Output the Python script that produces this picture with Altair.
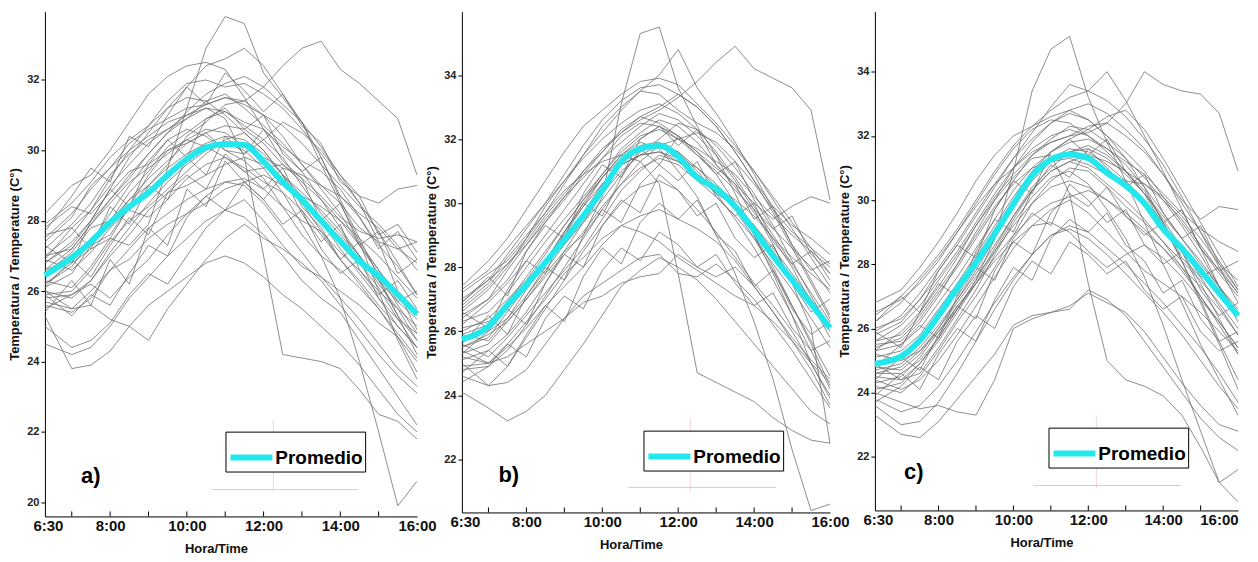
import altair as alt
import pandas as pd

HOURS = [6.3, 7.0, 7.5, 8.0, 8.5, 9.0, 9.5, 10.0, 10.5, 11.0, 11.5, 12.0, 12.5, 13.0, 13.5, 14.0, 14.5, 15.0, 15.5, 16.0]

DAYS_A = [
    [27.0, 27.6, 28.3, 29.0, 29.6, 30.2, 30.6, 31.0, 31.3, 31.5, 31.4, 31.8, 32.4, 32.9, 33.1, 32.3, 31.9, 31.4, 30.9, 29.3],
    [26.2, 26.8, 27.2, 27.5, 27.3, 27.9, 29.5, 31.2, 32.9, 33.8, 33.6, 32.2, 31.5, 30.8, 29.6, 28.5, 27.4, 26.0, 24.6, 23.5],
    [27.5, 28.2, 28.9, 29.5, 30.0, 30.4, 30.8, 31.0, 31.2, 30.9, 29.8, 27.0, 24.2, 24.1, 24.0, 23.8, 23.2, 22.5, 22.3, 21.8],
    [25.3, 23.8, 23.9, 24.3, 25.0, 25.6, 26.0, 26.4, 26.8, 27.0, 26.8, 26.4, 25.9, 25.5, 25.0, 24.5, 23.9, 23.2, 22.5, 22.0],
    [24.5, 24.2, 24.4, 25.0, 25.8, 26.4, 27.0, 27.5, 28.0, 28.3, 28.1, 27.6, 27.0, 26.3, 25.8, 25.4, 24.6, 23.8, 23.0, 22.2],
    [26.0, 25.8, 26.3, 27.1, 27.8, 28.5, 29.1, 29.6, 30.0, 30.2, 30.0, 29.5, 28.8, 27.9, 27.0, 25.8, 24.0, 22.0, 19.9, 20.6],
    [28.2, 29.0, 29.3, 30.0, 30.8, 31.6, 32.1, 32.4, 32.5, 32.3, 31.5, 30.6, 30.0, 29.4, 28.6, 27.8, 27.0, 26.2, 25.5, 24.6],
    [26.8, 27.4, 28.0, 28.9, 29.8, 30.5, 31.2, 31.8, 32.4, 32.6, 32.9, 32.4, 31.6, 30.8, 29.8, 28.6, 27.5, 26.4, 25.3, 24.2],
    [27.2, 27.9, 28.5, 29.3, 29.9, 30.3, 30.6, 30.9, 31.4, 31.6, 31.2, 30.7, 30.2, 29.6, 29.0, 28.5, 27.8, 27.4, 27.2, 27.4],
    [26.6, 26.9, 27.5, 28.0, 28.6, 29.2, 29.7, 30.2, 30.5, 30.7, 30.6, 30.2, 29.6, 29.1, 28.6, 28.0, 27.3, 26.6, 25.9, 25.3],
    [25.9, 26.0, 26.6, 27.4, 28.0, 28.4, 28.9, 29.4, 29.9, 30.3, 30.5, 30.0, 29.3, 28.7, 28.0, 27.2, 26.5, 25.8, 25.0, 24.4],
    [26.3, 26.1, 26.7, 27.5, 28.4, 29.0, 29.6, 30.4, 30.8, 31.3, 31.4, 31.0, 30.4, 29.6, 28.9, 28.2, 27.3, 26.5, 25.6, 24.8],
    [27.8, 28.4, 28.2, 28.8, 29.4, 29.6, 30.0, 30.3, 30.1, 29.8, 29.4, 29.5, 29.6, 29.2, 28.7, 28.1, 27.7, 27.5, 27.6, 27.4],
    [25.6, 25.4, 25.8, 26.6, 27.2, 27.8, 28.2, 28.6, 28.9, 29.1, 29.2, 28.9, 28.4, 28.0, 27.7, 27.1, 26.6, 26.0, 25.5, 25.0],
    [27.0, 27.2, 27.9, 28.5, 29.1, 29.5, 29.9, 30.3, 30.6, 30.5, 30.1, 29.8, 29.5, 29.3, 29.0, 28.7, 28.2, 27.8, 27.2, 26.8],
    [25.0, 24.4, 24.6, 25.1, 25.9, 26.5, 26.2, 27.0, 27.8, 28.3, 28.6, 28.0, 27.3, 26.7, 26.4, 26.0, 25.6, 25.1, 24.7, 24.0],
    [26.1, 26.5, 27.3, 27.6, 28.4, 29.3, 30.0, 30.2, 30.5, 30.0, 29.7, 29.2, 28.4, 27.6, 27.0, 26.6, 26.1, 25.5, 24.7, 23.7],
    [25.8, 25.9, 26.2, 25.8, 26.4, 26.9, 27.6, 28.2, 28.7, 29.1, 29.0, 28.5, 27.8, 27.1, 26.4, 25.8, 25.2, 24.5, 23.8, 23.3],
    [27.4, 28.1, 29.0, 29.5, 30.2, 30.6, 30.9, 31.2, 31.3, 31.5, 31.3, 31.0, 30.7, 30.2, 29.6, 29.0, 28.4, 27.9, 27.3, 26.6],
    [26.5, 27.1, 27.8, 28.0, 28.8, 29.4, 30.1, 30.5, 30.9, 31.1, 30.8, 30.6, 30.1, 29.7, 29.4, 28.9, 28.1, 27.3, 26.7, 25.9],
    [26.9, 26.6, 27.1, 27.8, 28.3, 28.1, 28.6, 29.2, 29.6, 29.8, 29.5, 29.1, 28.8, 28.3, 27.6, 26.9, 26.2, 25.5, 24.8, 24.1],
    [26.0, 25.5, 25.6, 25.2, 25.0, 24.6, 25.5, 26.2, 26.9, 27.5, 27.9, 27.5, 27.2, 26.8, 26.3, 25.6, 24.9, 24.2, 23.6, 23.1],
    [27.9, 28.5, 29.1, 29.8, 30.3, 30.7, 31.2, 31.5, 31.4, 31.0, 30.5, 30.0, 29.3, 28.5, 27.7, 26.9, 26.3, 25.6, 25.0, 24.4],
    [26.4, 27.0, 27.4, 28.2, 29.0, 29.7, 30.3, 30.6, 30.4, 30.0, 29.9, 30.3, 30.8, 30.5, 30.0, 29.3, 28.7, 28.5, 28.9, 29.0],
    [25.5, 25.9, 26.3, 27.0, 27.6, 28.3, 28.8, 29.0, 29.3, 29.6, 29.8, 29.6, 29.1, 28.7, 28.4, 28.0, 27.5, 27.0, 26.4, 25.8],
    [26.8, 27.3, 28.0, 28.6, 29.2, 29.9, 30.5, 30.9, 31.2, 31.1, 30.7, 30.3, 29.8, 29.0, 28.2, 27.6, 27.0, 26.3, 25.7, 25.2],
    [27.6, 27.8, 28.3, 29.2, 30.0, 30.7, 31.4, 31.9, 32.0, 31.8, 31.9, 31.6, 31.2, 30.6, 29.9, 29.2, 28.5, 27.7, 26.8, 25.9],
    [26.2, 26.7, 27.4, 27.9, 28.6, 29.0, 29.5, 29.9, 30.2, 30.4, 30.3, 29.9, 29.3, 28.8, 28.3, 27.7, 27.0, 26.3, 25.3, 24.6],
    [25.7, 25.5, 26.0, 26.6, 26.9, 27.5, 27.9, 28.2, 28.5, 28.9, 29.1, 29.3, 29.0, 28.6, 28.1, 27.5, 26.8, 26.1, 25.2, 24.4],
    [26.6, 27.2, 27.9, 28.6, 29.3, 29.9, 30.5, 31.1, 31.6, 31.9, 32.1, 31.8, 31.3, 30.8, 30.1, 29.3, 28.5, 27.4, 26.0, 24.9],
    [26.9, 27.8, 27.2, 28.4, 27.9, 29.0, 28.6, 29.8, 29.3, 30.4, 29.9, 30.6, 29.7, 29.2, 28.0, 28.5, 27.3, 27.7, 26.5, 26.9],
    [25.4, 26.3, 25.6, 26.9, 26.2, 27.8, 27.3, 28.9, 28.4, 29.7, 29.1, 28.6, 29.3, 28.2, 27.4, 27.9, 26.6, 25.9, 26.3, 25.5],
    [27.3, 26.8, 28.0, 28.9, 28.4, 29.6, 30.3, 29.8, 30.9, 31.2, 30.6, 31.0, 29.9, 29.4, 29.8, 28.7, 28.1, 27.2, 27.7, 26.9],
    [26.1, 26.9, 26.4, 27.3, 28.1, 27.6, 28.8, 29.3, 28.9, 29.9, 29.4, 28.9, 29.5, 28.4, 27.8, 26.9, 27.4, 26.6, 25.7, 26.0],
    [25.9, 25.3, 25.9, 25.6, 26.5, 27.3, 27.0, 28.1, 28.7, 28.3, 29.1, 28.6, 27.9, 28.3, 27.2, 26.5, 26.9, 25.8, 25.2, 24.8],
    [27.7, 28.7, 29.5, 29.1, 30.4, 30.1, 31.0, 31.8, 31.3, 32.2, 31.7, 31.1, 31.6, 30.7, 30.2, 29.1, 28.7, 27.6, 27.9, 27.1],
]
MEAN_A = [26.45, 26.95, 27.4, 27.95, 28.4, 28.8, 29.3, 29.75, 30.08, 30.18, 30.15, 29.68, 29.1, 28.6, 28.0, 27.42, 26.85, 26.43, 25.9, 25.35]

DAYS_B = [
    [26.4, 27.0, 27.6, 28.5, 29.4, 30.2, 31.0, 31.6, 32.2, 32.6, 32.9, 33.3, 33.8, 34.4, 34.9, 34.2, 33.9, 33.6, 32.9, 30.1],
    [25.5, 25.9, 26.3, 27.0, 27.8, 28.5, 29.0, 30.2, 33.1, 35.3, 35.5, 33.6, 32.4, 31.5, 30.3, 29.0, 27.8, 26.5, 25.0, 23.9],
    [26.8, 27.5, 28.3, 29.0, 29.7, 30.4, 30.9, 31.3, 31.5, 31.3, 30.6, 27.8, 24.7, 24.4, 24.1, 23.8, 23.3, 22.9, 22.6, 22.5],
    [24.1, 23.6, 23.2, 23.5, 24.0, 24.8, 25.6, 26.5, 27.4, 27.9, 28.3, 28.0, 27.6, 27.0, 26.3, 25.6, 24.9, 24.2, 23.5, 23.1],
    [25.0, 24.3, 24.4, 24.8, 25.6, 26.4, 27.1, 27.5, 27.9, 28.3, 28.4, 27.8, 27.7, 28.1, 27.6, 27.0, 26.2, 25.4, 24.5, 23.6],
    [25.9, 25.7, 26.4, 27.3, 28.2, 29.1, 30.0, 30.8, 31.5, 31.9, 31.7, 31.0, 30.2, 29.0, 27.8, 26.3, 24.5, 22.3, 20.4, 20.6],
    [27.4, 28.2, 28.9, 29.8, 30.7, 31.6, 32.4, 32.9, 33.4, 33.8, 33.9, 33.7, 33.1, 32.5, 31.8, 31.0, 30.1, 29.2, 28.3, 27.4],
    [26.6, 27.3, 28.0, 28.9, 29.9, 30.7, 31.5, 32.2, 32.9, 33.5, 34.0, 34.8, 33.6, 32.8, 31.9, 30.9, 29.8, 28.7, 27.6, 26.5],
    [26.0, 26.4, 27.0, 27.6, 28.4, 29.3, 30.1, 30.9, 31.6, 32.1, 32.3, 32.0, 31.5, 31.0, 30.4, 29.8, 29.2, 28.6, 28.0, 27.2],
    [25.3, 25.6, 26.3, 27.0, 27.7, 28.4, 29.1, 29.9, 30.6, 31.1, 31.4, 31.2, 30.7, 30.2, 29.6, 28.9, 28.1, 27.3, 26.4, 25.5],
    [25.6, 25.2, 25.8, 26.5, 27.2, 27.9, 28.6, 29.5, 30.4, 31.0, 31.5, 31.3, 30.8, 30.3, 29.9, 29.3, 28.5, 27.7, 26.8, 26.0],
    [24.8, 24.9, 25.4, 26.2, 27.1, 28.0, 28.9, 29.8, 30.6, 31.3, 31.8, 31.6, 31.1, 30.5, 29.8, 28.9, 27.9, 26.8, 25.7, 24.6],
    [26.2, 26.9, 27.5, 28.2, 29.0, 29.8, 30.6, 31.4, 32.1, 32.5, 32.4, 32.0, 31.7, 31.3, 30.9, 30.2, 29.6, 29.0, 28.5, 28.0],
    [25.4, 25.0, 25.2, 25.6, 26.0, 26.4, 26.9, 27.1, 27.5, 27.7, 27.8, 28.4, 28.0, 27.7, 28.0, 27.4, 26.6, 25.8, 25.1, 24.5],
    [26.9, 27.6, 28.4, 29.2, 30.0, 30.7, 31.4, 32.0, 32.5, 32.9, 33.1, 32.8, 32.3, 31.6, 30.8, 29.9, 29.0, 28.1, 27.2, 26.3],
    [25.1, 25.4, 25.9, 26.6, 27.5, 28.5, 29.4, 30.3, 31.0, 31.5, 31.6, 31.3, 30.9, 30.5, 30.1, 29.6, 28.9, 28.3, 27.8, 27.3],
    [27.2, 27.8, 28.2, 28.9, 29.7, 30.6, 31.5, 32.4, 33.0, 33.5, 33.4, 32.9, 32.5, 32.2, 31.7, 31.0, 30.2, 29.4, 28.6, 27.8],
    [24.6, 24.3, 24.9, 25.8, 26.7, 27.6, 28.5, 29.3, 30.0, 30.5, 30.7, 30.4, 29.8, 29.1, 28.3, 27.5, 26.8, 26.0, 25.0, 24.0],
    [26.3, 26.6, 27.2, 28.0, 28.8, 29.5, 30.2, 30.9, 31.7, 32.2, 32.6, 32.4, 31.9, 31.2, 30.5, 29.7, 28.9, 28.0, 26.9, 25.8],
    [25.7, 26.1, 26.8, 27.5, 28.1, 28.8, 29.7, 30.6, 31.2, 31.5, 31.8, 32.0, 32.2, 31.9, 31.3, 30.6, 29.8, 29.1, 28.6, 28.1],
    [25.2, 25.0, 25.6, 26.3, 27.0, 27.8, 28.3, 28.9, 29.3, 29.6, 29.8, 29.5, 29.2, 28.8, 28.2, 27.4, 26.6, 25.7, 24.8, 23.7],
    [26.7, 27.4, 28.1, 28.8, 29.6, 30.3, 31.0, 31.7, 32.2, 32.7, 33.0, 33.4, 33.0, 32.4, 31.6, 30.7, 29.9, 29.3, 28.9, 28.4],
    [25.9, 26.2, 26.9, 27.7, 28.5, 29.3, 30.1, 30.8, 31.4, 31.8, 31.9, 31.6, 31.0, 30.3, 29.5, 28.6, 27.6, 26.5, 25.4, 24.2],
    [27.0, 27.6, 28.1, 28.7, 29.4, 30.1, 30.9, 31.6, 32.3, 32.7, 32.5, 32.1, 31.6, 31.1, 30.6, 30.0, 29.5, 29.9, 30.2, 30.0],
    [25.5, 25.8, 26.6, 27.4, 28.2, 29.0, 29.9, 30.8, 31.5, 32.0, 32.4, 32.1, 31.6, 30.9, 30.0, 29.0, 28.0, 26.8, 25.6, 24.3],
    [24.9, 25.0, 25.5, 26.1, 26.8, 27.4, 28.0, 28.7, 29.3, 29.1, 28.8, 28.3, 27.9, 27.5, 27.1, 26.8, 26.3, 25.7, 25.0, 24.4],
    [26.5, 27.0, 27.9, 28.7, 29.5, 30.2, 30.8, 31.4, 31.9, 32.4, 32.8, 32.6, 32.1, 31.5, 30.7, 29.8, 28.7, 27.5, 26.1, 22.5],
    [26.1, 26.3, 26.8, 27.4, 28.2, 29.1, 29.9, 30.6, 31.2, 31.5, 31.6, 31.4, 31.1, 30.6, 30.0, 29.3, 28.6, 27.8, 27.0, 26.2],
    [25.8, 26.0, 26.4, 27.1, 27.9, 28.7, 29.4, 30.1, 30.9, 31.6, 32.0, 32.5, 32.3, 31.8, 31.1, 30.3, 29.3, 28.2, 27.1, 26.1],
    [27.3, 27.9, 28.6, 29.3, 30.0, 30.9, 31.8, 32.6, 33.2, 33.6, 33.7, 33.4, 33.0, 32.4, 31.6, 30.7, 29.7, 28.6, 27.5, 26.4],
    [25.6, 26.5, 25.9, 27.1, 28.0, 27.6, 29.0, 29.8, 29.4, 30.6, 31.2, 30.7, 31.3, 30.2, 29.6, 30.0, 28.8, 28.1, 28.5, 27.6],
    [24.7, 25.4, 24.9, 25.9, 26.8, 26.3, 27.7, 28.6, 28.1, 29.4, 30.0, 29.5, 30.1, 29.0, 28.5, 27.4, 27.9, 26.7, 25.9, 26.3],
    [26.6, 26.1, 27.3, 28.2, 27.8, 29.1, 30.0, 29.6, 30.8, 31.7, 31.2, 32.1, 31.5, 30.9, 31.3, 30.1, 29.2, 29.6, 28.4, 27.8],
    [25.3, 26.0, 26.7, 26.2, 27.5, 28.4, 28.0, 29.3, 30.1, 29.7, 30.9, 30.4, 29.6, 30.0, 28.9, 28.3, 28.7, 27.5, 26.6, 27.0],
    [26.9, 27.7, 27.1, 28.5, 29.3, 28.9, 30.3, 31.2, 30.8, 32.0, 32.4, 31.8, 32.3, 31.2, 30.6, 29.5, 29.9, 28.7, 27.9, 28.2],
    [24.4, 24.9, 25.6, 25.2, 26.4, 27.1, 26.7, 27.9, 28.6, 28.2, 29.1, 28.7, 28.0, 28.4, 27.5, 26.8, 27.2, 26.1, 25.4, 25.7],
]
MEAN_B = [25.75, 26.15, 26.82, 27.45, 28.15, 28.85, 29.6, 30.4, 31.3, 31.7, 31.8, 31.45, 30.8, 30.45, 29.9, 29.15, 28.35, 27.6, 26.85, 26.1]

DAYS_C = [
    [25.3, 25.9, 26.5, 27.3, 28.2, 29.2, 30.1, 30.8, 31.4, 31.8, 32.0, 32.1, 32.4, 33.0, 34.0, 33.6, 33.4, 33.3, 32.7, 30.9],
    [24.6, 24.6, 25.0, 25.7, 26.6, 27.5, 28.8, 30.9, 33.4, 34.7, 35.1, 33.2, 31.8, 30.6, 29.3, 28.0, 26.8, 25.5, 24.4, 23.3],
    [25.6, 26.1, 26.7, 27.5, 28.3, 29.2, 30.0, 30.7, 31.3, 31.4, 30.2, 27.4, 25.0, 24.4, 24.2, 23.9, 23.3, 22.3, 21.2, 20.6],
    [23.3, 22.7, 22.6, 23.1, 23.8, 24.5, 25.2, 26.1, 26.4, 26.5, 26.6, 27.2, 26.9, 26.4, 25.6, 24.8, 24.0, 23.2, 22.6, 22.2],
    [24.0, 23.7, 23.5, 23.6, 23.4, 23.3, 24.4, 26.0, 26.3, 26.5, 26.7, 27.1, 26.8, 26.5, 25.9, 25.1, 24.3, 23.6, 23.0, 22.8],
    [24.9, 24.4, 24.6, 25.4, 26.3, 27.2, 28.3, 29.3, 30.1, 30.7, 30.9, 30.5, 29.7, 28.8, 27.6, 26.1, 24.4, 22.8, 21.2, 21.6],
    [26.8, 27.2, 27.9, 28.7, 29.6, 30.6, 31.4, 32.0, 32.3, 32.6, 32.8, 32.5, 32.0, 31.5, 30.9, 30.1, 29.3, 28.5, 27.7, 27.0],
    [25.8, 26.2, 26.9, 27.8, 28.6, 29.5, 30.4, 31.3, 32.1, 32.9, 33.6, 33.4, 34.0, 33.1, 32.0, 30.9, 29.7, 28.5, 27.3, 26.2],
    [25.1, 25.3, 25.8, 26.6, 27.4, 28.3, 29.2, 30.1, 30.9, 31.5, 31.8, 31.9, 31.6, 31.1, 30.4, 29.6, 28.8, 28.0, 27.3, 26.6],
    [24.5, 24.4, 24.9, 25.6, 26.5, 27.4, 28.4, 29.4, 30.3, 30.9, 31.2, 31.0, 30.5, 30.0, 29.4, 28.7, 27.9, 27.0, 26.1, 25.2],
    [24.2, 24.0, 24.5, 25.3, 26.2, 27.0, 27.9, 28.9, 29.9, 30.6, 31.0, 30.9, 30.4, 29.8, 29.3, 28.7, 28.1, 27.5, 26.8, 26.0],
    [25.4, 25.7, 26.3, 27.1, 27.9, 28.8, 29.7, 30.6, 31.4, 31.9, 32.3, 32.2, 31.8, 31.3, 30.7, 30.0, 29.2, 28.3, 27.3, 26.4],
    [26.2, 26.8, 27.5, 28.2, 29.0, 29.8, 30.5, 31.0, 31.5, 31.8, 32.0, 32.3, 32.4, 32.0, 31.5, 30.8, 30.0, 29.4, 29.8, 29.7],
    [23.8, 23.4, 23.6, 24.2, 25.0, 25.9, 26.8, 27.6, 28.3, 28.9, 29.2, 29.0, 28.5, 28.0, 27.4, 26.8, 26.1, 25.4, 24.6, 23.7],
    [25.9, 26.4, 27.1, 27.9, 28.7, 29.6, 30.5, 31.3, 31.9, 32.4, 32.8, 33.0, 32.7, 32.2, 31.6, 30.8, 29.9, 29.0, 28.1, 27.2],
    [24.7, 24.9, 25.4, 26.1, 26.9, 27.7, 28.6, 29.5, 30.3, 30.9, 31.2, 31.4, 31.2, 30.9, 30.5, 30.0, 29.4, 28.6, 27.8, 27.1],
    [24.4, 24.1, 24.4, 25.0, 25.8, 26.7, 27.6, 28.5, 29.2, 29.7, 30.0, 29.6, 29.0, 28.4, 27.8, 27.4, 27.0, 26.5, 25.9, 25.3],
    [25.5, 25.6, 26.2, 27.0, 28.0, 29.0, 30.0, 31.0, 31.8, 32.4, 32.7, 32.5, 32.0, 31.3, 30.4, 29.3, 28.1, 26.8, 25.5, 24.1],
    [24.3, 24.5, 25.1, 25.9, 26.7, 27.4, 28.1, 28.7, 29.2, 29.3, 29.0, 28.4, 27.9, 28.3, 28.6, 28.2, 27.6, 26.9, 26.2, 25.4],
    [26.0, 26.3, 26.9, 27.6, 28.4, 29.3, 30.2, 31.0, 31.6, 32.0, 32.2, 32.0, 31.6, 31.2, 30.8, 30.2, 29.6, 29.1, 28.7, 28.4],
    [24.8, 24.7, 25.2, 26.0, 26.9, 27.8, 28.8, 29.8, 30.6, 31.2, 31.5, 31.6, 31.3, 30.8, 30.2, 29.4, 28.5, 27.6, 26.7, 25.8],
    [25.2, 25.0, 25.3, 25.9, 26.6, 27.4, 28.2, 28.9, 29.5, 29.9, 30.1, 30.3, 30.0, 29.6, 29.1, 28.5, 27.8, 27.0, 26.2, 25.4],
    [23.6, 23.0, 23.1, 23.7, 24.6, 25.6, 26.6, 27.5, 28.3, 28.9, 29.1, 28.8, 28.3, 27.7, 27.1, 26.5, 25.8, 25.0, 24.2, 23.5],
    [26.4, 27.0, 27.6, 28.3, 29.1, 30.0, 30.9, 31.7, 32.3, 32.8, 33.2, 33.4, 33.1, 32.6, 31.9, 31.1, 30.1, 29.0, 27.9, 26.8],
    [24.9, 25.1, 25.7, 26.5, 27.3, 28.2, 29.1, 30.0, 30.7, 31.3, 31.6, 31.5, 31.1, 30.6, 30.0, 29.3, 28.4, 27.4, 26.3, 25.2],
    [25.6, 25.8, 26.4, 27.2, 28.0, 28.9, 29.8, 30.5, 31.0, 31.2, 31.3, 31.1, 30.8, 30.6, 30.5, 30.1, 29.5, 28.8, 28.0, 27.2],
    [24.1, 24.3, 24.9, 25.7, 26.6, 27.5, 28.5, 29.5, 30.4, 31.0, 31.5, 31.7, 31.4, 30.9, 30.2, 29.2, 28.1, 26.9, 25.6, 24.4],
    [25.3, 25.5, 26.0, 26.8, 27.6, 28.5, 29.4, 30.3, 31.0, 31.5, 31.9, 32.2, 32.6, 32.8, 32.2, 31.3, 30.3, 29.3, 28.3, 27.3],
    [24.6, 24.8, 25.3, 26.0, 26.8, 27.6, 28.4, 29.2, 29.9, 30.4, 30.6, 30.4, 30.0, 29.5, 29.0, 28.5, 27.9, 27.3, 26.6, 25.8],
    [26.5, 26.9, 27.4, 28.1, 29.0, 29.9, 30.8, 31.6, 32.2, 32.5, 32.4, 32.0, 31.5, 30.9, 30.2, 29.5, 28.8, 28.1, 27.3, 26.5],
    [24.4, 25.1, 24.7, 25.8, 26.7, 26.3, 27.8, 28.7, 28.3, 29.6, 30.2, 29.8, 30.4, 29.5, 28.9, 29.3, 28.2, 27.6, 27.9, 27.1],
    [23.9, 24.6, 24.1, 25.2, 26.0, 25.6, 26.9, 27.9, 27.5, 28.8, 29.4, 29.0, 29.6, 28.6, 28.1, 27.1, 27.5, 26.3, 25.6, 25.9],
    [25.9, 25.4, 26.5, 27.4, 27.0, 28.4, 29.4, 29.0, 30.3, 31.1, 30.7, 31.6, 31.0, 30.4, 30.8, 29.6, 28.8, 29.2, 28.0, 27.5],
    [24.8, 25.5, 26.1, 25.7, 27.0, 27.9, 27.5, 28.8, 29.6, 29.2, 30.5, 30.0, 29.3, 29.7, 28.6, 28.0, 28.4, 27.2, 26.4, 26.8],
    [26.2, 27.0, 26.5, 27.8, 28.6, 28.2, 29.7, 30.6, 30.2, 31.5, 31.9, 31.4, 31.9, 30.9, 30.3, 29.3, 29.7, 28.5, 27.8, 28.1],
    [23.7, 24.2, 24.8, 24.4, 25.6, 26.4, 26.0, 27.3, 28.1, 27.7, 28.7, 28.3, 27.7, 28.1, 27.2, 26.6, 27.0, 25.9, 25.3, 25.6],
]
MEAN_C = [24.9, 25.13, 25.63, 26.4, 27.25, 28.05, 28.95, 29.87, 30.76, 31.26, 31.42, 31.3, 30.85, 30.45, 29.9, 29.1, 28.5, 27.8, 27.1, 26.4]

PANEL_LETTERS = ["a)", "b)", "c)"]
SERIES_NAME = "Promedio"
X_LABEL_VALUES = [6.38, 8, 10, 12, 14, 16]
X_TICK_VALUES = [7, 8, 9, 10, 11, 12, 13, 14, 15]
Y_TICKS_A = [20, 22, 24, 26, 28, 30, 32]
Y_TICKS_BC = [22, 24, 26, 28, 30, 32, 34]

CYAN = "#22e8ee"
SANS = "Liberation Sans, Arial, sans-serif"


def panel(days, mean, letter, ydomain, yticks, width, height, legend_xy, letter_xy, cross, flush_last):
    rows = [{"dia": d, "hora": h, "temp": v}
            for d, vals in enumerate(days) for h, v in zip(HOURS, vals)]
    df = pd.DataFrame(rows)
    mdf = pd.DataFrame({"hora": HOURS, "temp": mean, "serie": [SERIES_NAME] * len(HOURS)})

    xscale = alt.Scale(domain=[6.3, 16], nice=False, zero=False)
    yscale = alt.Scale(domain=ydomain, nice=False, zero=False)

    xaxis = alt.Axis(
        values=X_LABEL_VALUES,
        labelExpr="datum.value < 7 ? '6:30' : format(datum.value, 'd') + ':00'",
        ticks=False, tickSize=0, grid=False,
        domainColor="black", domainWidth=1,
        labelFont=SANS, labelFontSize=15, labelFontWeight="bold", labelColor="#111111",
        labelPadding=2, labelFlush=(1 if flush_last else False), labelOverlap=False,
        title="Hora/Time", titleFont=SANS, titleFontSize=13, titleFontWeight="bold",
        titleColor="#111111", titlePadding=9, titleX=width / 2 - 15,
    )
    yaxis = alt.Axis(
        values=yticks, format="d", grid=False,
        domainColor="black", domainWidth=1, tickColor="black", tickSize=4,
        labelFont=SANS, labelFontSize=11, labelFontWeight="bold", labelColor="#222222",
        labelPadding=2,
        title="Temperatura / Temperature (C°)", titleFont=SANS, titleFontSize=13,
        titleFontWeight="bold", titleColor="#111111", titlePadding=5,
    )

    gray = alt.Chart(df).mark_line(color="#6a6a6a", strokeWidth=0.9, opacity=0.85).encode(
        x=alt.X("hora:Q", scale=xscale, axis=xaxis),
        y=alt.Y("temp:Q", scale=yscale, axis=yaxis),
        detail="dia:N",
    )

    avg = alt.Chart(mdf).mark_line(strokeWidth=6, interpolate="monotone").encode(
        x="hora:Q",
        y="temp:Q",
        color=alt.Color(
            "serie:N",
            scale=alt.Scale(domain=[SERIES_NAME], range=[CYAN]),
            title=None,
            legend=alt.Legend(
                orient="none", legendX=legend_xy[0], legendY=legend_xy[1],
                symbolType="stroke", symbolStrokeWidth=6, symbolSize=1764,
                labelFont=SANS, labelFontSize=19, labelFontWeight="bold", labelColor="black",
                labelOffset=0, padding=2, strokeColor="black", fillColor="white",
            ),
        ),
    )

    ticks = alt.Chart(pd.DataFrame({"hora": X_TICK_VALUES})).mark_rule(
        color="black", strokeWidth=1
    ).encode(x="hora:Q", y=alt.value(height), y2=alt.value(height - 5))

    hx0, hx1, hy, vx, vy0, vy1 = cross
    cross_h = alt.Chart(pd.DataFrame({"k": [0]})).mark_rule(
        color="#f3b3b3", strokeWidth=1, opacity=0.8
    ).encode(x=alt.value(hx0), x2=alt.value(hx1), y=alt.value(hy))
    cross_v = alt.Chart(pd.DataFrame({"k": [0]})).mark_rule(
        color="#f3c4c4", strokeWidth=1, opacity=0.7
    ).encode(x=alt.value(vx), y=alt.value(vy0), y2=alt.value(vy1))

    lab = alt.Chart(pd.DataFrame({"etiqueta": [letter]})).mark_text(
        font=SANS, fontSize=22, fontWeight="bold", color="black",
        align="center", baseline="alphabetic",
    ).encode(text="etiqueta:N", x=alt.value(letter_xy[0]), y=alt.value(letter_xy[1]))

    return alt.layer(cross_h, cross_v, gray, avg, ticks, lab).properties(width=width, height=height)


pa = panel(DAYS_A, MEAN_A, PANEL_LETTERS[0], [19.6, 33.94], Y_TICKS_A, 373, 506,
           (181, 421), (46, 472), (167, 314, 479, 229, 409, 482), False)
pb = panel(DAYS_B, MEAN_B, PANEL_LETTERS[1], [20.34, 35.98], Y_TICKS_BC, 369, 502,
           (182, 420), (47, 471), (167, 315, 477, 229, 408, 481), False)
pc = panel(DAYS_C, MEAN_C, PANEL_LETTERS[2], [20.33, 35.87], Y_TICKS_BC, 364, 500,
           (174, 417), (39, 468), (159, 307, 475, 222, 405, 478), True)

chart = alt.hconcat(pa, pb, pc, spacing=45, bounds="flush").resolve_scale(
    x="independent", y="independent", color="independent"
).properties(
    padding={"top": 3, "left": 0, "right": 0, "bottom": 0},
    background="white",
).configure_view(stroke=None)

chart.save("out.html", embed_options={"renderer": "svg", "actions": False})
